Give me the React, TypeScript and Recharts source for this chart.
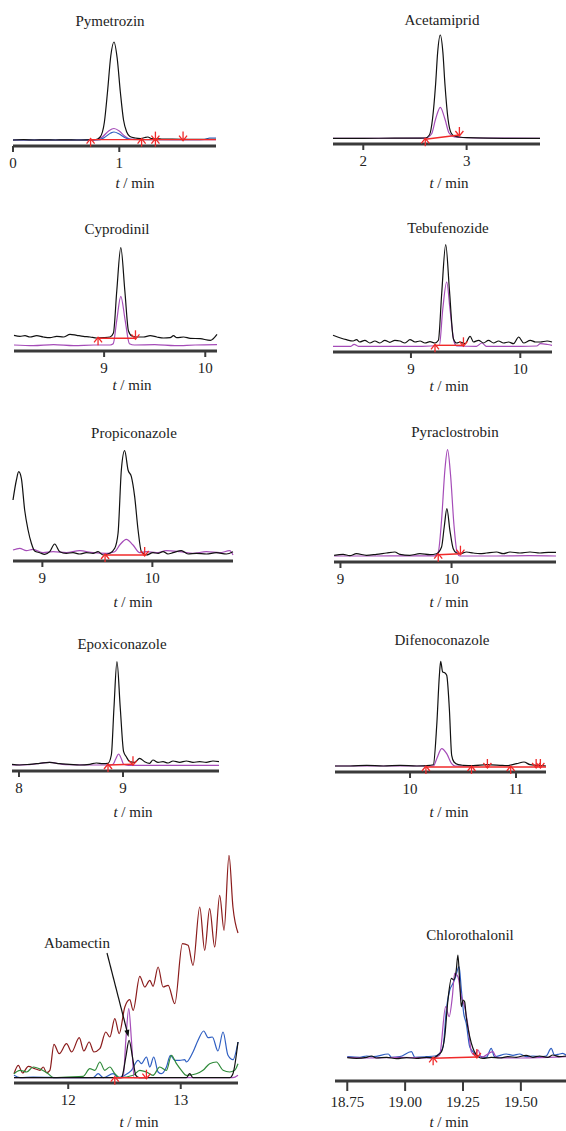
import { LineChart, Line, XAxis, YAxis } from "recharts";

type Pt = [number, number];
type Mark = [number, number, string];

const FONT = '"Liberation Serif", "Times New Roman", serif';
const BLACK = "#111111";
const PURPLE = "#a54cb8";
const BLUE = "#2f5fc2";
const RED = "#f02a2a";
const BROWN = "#8b1c1c";
const GREEN = "#2f8a3a";

// y values = height above the axis line (px-like units), x = retention time in min

// Pymetrozin
const pymBlack: Pt[] = [[0,6],[0.1,6.3],[0.2,6],[0.3,6.2],[0.4,6],[0.5,6.1],[0.6,6],[0.7,6.2],[0.78,6.5],[0.82,9],[0.86,24],[0.89,55],[0.92,90],[0.95,104],[0.98,88],[1.01,54],[1.04,26],[1.07,14],[1.1,9.5],[1.15,8],[1.2,7.5],[1.24,8.5],[1.27,9],[1.3,7.5],[1.4,7],[1.5,6.8],[1.6,6.7],[1.7,6.6],[1.8,6.6],[1.91,6.6]];
const pymPurple: Pt[] = [[0,6],[0.5,6],[0.78,6.2],[0.84,9],[0.9,15],[0.95,17.5],[1.0,15],[1.05,10],[1.1,7],[1.2,6.5],[1.5,6.3],[1.91,6.3]];
const pymBlue: Pt[] = [[0,6],[0.8,6],[0.86,8.5],[0.92,13],[0.95,14],[1.0,12],[1.06,8],[1.12,6.5],[1.5,6.3],[1.8,6.5],[1.85,8],[1.91,8]];
const pymRed: Mark[] = [[0.73,6.4,"u"],[1.21,6.4,"u"],[1.34,6.4,"b"],[1.6,6.4,"d"],[1.91,6.4,""]];

// Acetamiprid
const aceBlack: Pt[] = [[1.707,5.7],[2.0,5.7],[2.3,5.8],[2.5,5.8],[2.6,6],[2.64,9],[2.67,25],[2.7,60],[2.72,92],[2.745,109],[2.77,92],[2.79,60],[2.82,25],[2.85,11],[2.88,8],[2.93,7],[3.0,6.3],[3.2,5.8],[3.5,5.7],[3.71,5.7]];
const acePurple: Pt[] = [[1.707,5.7],[2.6,5.8],[2.66,10],[2.7,25],[2.745,36.7],[2.79,25],[2.83,11],[2.88,7],[2.95,6.5],[3.1,6],[3.71,5.7]];
const aceRed: Mark[] = [[2.6,4.7,"u"],[2.93,9,"d"]];

// Cyprodinil
const cypBlack: Pt[] = [[8.109,15.7],[8.168,14.7],[8.218,15.3],[8.267,14],[8.333,15.3],[8.399,14],[8.465,13.3],[8.531,14.7],[8.597,14],[8.663,16.7],[8.729,15.7],[8.795,14.7],[8.861,14],[8.927,13],[8.993,13.3],[9.059,14],[9.092,18],[9.125,60],[9.165,103.4],[9.205,60],[9.241,20],[9.274,15],[9.323,14],[9.389,14],[9.455,15.3],[9.521,14],[9.587,13],[9.653,13.3],[9.686,15.3],[9.719,13.3],[9.785,14],[9.851,12.7],[9.95,12.3],[10.05,10.7],[10.116,16.7]];
const cypPurple: Pt[] = [[8.109,6],[8.3,5.3],[8.5,6.3],[8.7,5.3],[8.9,6],[9.06,6],[9.09,7.3],[9.125,30.7],[9.165,54.7],[9.208,30.7],[9.25,7.3],[9.3,6],[9.5,6.3],[9.7,5.3],[9.9,6],[10.116,6.3]];
const cypRed: Mark[] = [[8.94,12.7,"u"],[9.31,12.7,"d"]];

// Tebufenozide
const tebBlack: Pt[] = [[8.287,16.7],[8.349,14.3],[8.41,12.3],[8.471,11],[8.502,12.3],[8.532,10],[8.578,11.7],[8.624,9],[8.67,11],[8.716,9],[8.761,11.7],[8.807,9.7],[8.853,11.7],[8.899,11],[8.945,9],[8.991,12.3],[9.037,10],[9.083,11],[9.128,9],[9.174,10.3],[9.22,9],[9.251,11.7],[9.281,58.3],[9.318,107.3],[9.352,61.7],[9.388,13.3],[9.419,9],[9.45,10],[9.495,8.3],[9.541,15.7],[9.572,10],[9.618,11.7],[9.664,9],[9.709,11.7],[9.755,9],[9.801,11],[9.847,9],[9.893,10],[9.939,8.3],[9.985,15],[10.031,9],[10.092,11.7],[10.138,10],[10.183,10],[10.245,11],[10.29,10]];
const tebPurple: Pt[] = [[8.287,5.7],[8.45,5.7],[8.48,7.7],[8.52,5.7],[8.8,5.7],[9.1,5.7],[9.26,6.5],[9.29,41.7],[9.327,70],[9.358,41.7],[9.395,10],[9.42,6],[9.6,5.7],[9.648,9],[9.69,5.7],[10.0,5.7],[10.15,6],[10.183,8.3],[10.25,7.5],[10.29,6.7]];
const tebRed: Mark[] = [[9.22,6.7,"u"],[9.48,6.7,"d"]];

// Propiconazole
const proBlack: Pt[] = [[8.733,61],[8.764,81],[8.785,89.3],[8.809,82.7],[8.839,51],[8.87,31],[8.9,17.7],[8.93,10],[8.976,8.3],[9.021,6.7],[9.067,9.3],[9.112,17],[9.158,9.3],[9.218,7.7],[9.279,8.3],[9.339,7],[9.4,8.3],[9.461,7.7],[9.506,9.3],[9.552,6],[9.612,7.7],[9.658,12.7],[9.688,27.7],[9.718,91],[9.748,110.3],[9.779,91],[9.809,84.3],[9.839,64.3],[9.87,31],[9.9,9.3],[9.945,6],[10.006,8.3],[10.052,7.7],[10.097,9.3],[10.142,7],[10.188,8.3],[10.264,10.3],[10.324,7],[10.4,7.7],[10.491,7],[10.582,8.3],[10.673,7],[10.733,9.3]];
const proPurple: Pt[] = [[8.733,11],[8.794,12.7],[8.855,10.3],[8.915,11.7],[9.006,8.3],[9.097,9.3],[9.218,8.3],[9.339,10.3],[9.461,8.3],[9.582,7.7],[9.658,9.3],[9.703,16],[9.764,21.7],[9.824,16],[9.885,8.3],[9.945,9.3],[10.036,8.3],[10.127,10.3],[10.248,9.3],[10.37,7.7],[10.491,9.3],[10.612,8.3],[10.703,10.3],[10.733,6]];
const proRed: Mark[] = [[9.57,6,"u"],[9.93,6,"d"]];

// Pyraclostrobin
const pyrBlack: Pt[] = [[8.943,6.7],[9.024,7.7],[9.084,6.3],[9.144,8.3],[9.234,6.7],[9.324,7.7],[9.414,9],[9.489,10],[9.535,7.7],[9.625,6.7],[9.715,8.3],[9.805,7.3],[9.865,8.3],[9.91,15],[9.934,35],[9.958,53.3],[9.985,31.7],[10.015,13.3],[10.045,9],[10.075,8.3],[10.135,10],[10.195,9],[10.255,8.3],[10.315,9],[10.405,10],[10.465,8.3],[10.526,10],[10.616,9],[10.706,10],[10.796,9],[10.871,9.7],[10.94,9.7]];
const pyrPurple: Pt[] = [[8.943,6],[9.3,6],[9.6,6.2],[9.85,6.2],[9.88,9.7],[9.91,41.7],[9.94,92],[9.964,112.3],[9.991,87],[10.021,38],[10.051,9],[10.075,6],[10.4,6],[10.7,6.3],[10.94,6]];
const pyrRed: Mark[] = [[9.88,7.3,"u"],[10.08,8.3,"d"]];

// Epoxiconazole
const epoBlack: Pt[] = [[7.933,6.7],[8.006,6],[8.103,6.7],[8.199,7.7],[8.295,8.7],[8.391,7.3],[8.487,6.7],[8.583,6],[8.679,6.7],[8.744,8],[8.808,7.3],[8.856,7.7],[8.888,16],[8.913,62.7],[8.942,109.3],[8.974,62.7],[9.006,19.3],[9.032,14.3],[9.064,9.3],[9.112,8.7],[9.16,12.7],[9.208,9.3],[9.256,7.7],[9.288,11],[9.337,8.7],[9.385,9.3],[9.433,8],[9.481,10],[9.545,8.7],[9.609,10],[9.673,8.7],[9.737,9.3],[9.801,8.7],[9.865,10],[9.923,9.3]];
const epoPurple: Pt[] = [[7.933,6],[8.1,6.3],[8.295,8.7],[8.45,6.3],[8.7,6],[8.88,6],[8.904,6.7],[8.93,12],[8.958,17],[8.985,12],[9.006,6.7],[9.05,5.7],[9.3,5.7],[9.6,5.7],[9.923,5.7]];
const epoRed: Mark[] = [[8.856,6,"u"],[9.096,6.7,"d"]];

// Difenoconazole
const difBlack: Pt[] = [[9.292,6],[9.434,6],[9.591,6.7],[9.748,6],[9.906,6.7],[10.063,6],[10.189,6.7],[10.22,7.3],[10.252,46.7],[10.277,96.7],[10.289,110.7],[10.308,100],[10.327,99.3],[10.346,96.7],[10.371,63.3],[10.393,16.7],[10.415,10],[10.456,7.3],[10.503,6.7],[10.597,6.3],[10.723,7.3],[10.849,6.7],[10.912,6.3],[11.006,8.3],[11.075,10],[11.132,7.3],[11.195,6.7],[11.283,6]];
const difPurple: Pt[] = [[9.292,6],[9.7,6],[10.1,6],[10.22,6],[10.252,13.3],[10.299,23.3],[10.346,18.3],[10.393,8.3],[10.425,6],[10.6,6]];
const difRed: Mark[] = [[10.15,5,"u"],[10.58,5,"u"],[10.73,5,"d"],[10.95,5,"u"],[11.19,5,"d"],[11.23,5,"d"],[11.283,5,""]];

// Abamectin
const abaBrown: Pt[] = [[11.518,9.3],[11.556,17.7],[11.595,10],[11.645,16.7],[11.704,14.3],[11.749,12.7],[11.778,16],[11.808,10.3],[11.837,12.7],[11.873,38.7],[11.92,29.3],[11.985,39.3],[12.03,31],[12.098,45.3],[12.139,32],[12.186,41],[12.228,31],[12.281,34.3],[12.334,51],[12.37,46],[12.414,64.3],[12.453,49.3],[12.503,76],[12.547,83.3],[12.577,72.7],[12.636,106.7],[12.68,96],[12.725,102.7],[12.754,96.7],[12.799,116],[12.843,96],[12.888,97.7],[12.947,79.3],[13.015,139.3],[13.065,137.7],[13.109,117.7],[13.169,176],[13.213,132.7],[13.257,174.3],[13.302,136],[13.346,187.7],[13.385,152.7],[13.429,227.7],[13.464,176],[13.509,150]];
const abaBlue: Pt[] = [[11.518,7.7],[11.571,5.3],[11.689,6],[11.985,5.3],[12.222,5.3],[12.266,9.3],[12.311,5.3],[12.399,9.3],[12.444,5.3],[12.503,7.7],[12.562,12.7],[12.621,22.7],[12.651,19.3],[12.695,26],[12.725,16],[12.76,26],[12.799,11],[12.828,9.3],[12.873,16],[12.908,27.7],[12.947,22.7],[12.991,22.7],[13.036,23.3],[13.05,21],[13.109,31],[13.154,42.7],[13.204,52],[13.243,45.3],[13.281,46],[13.331,32],[13.376,51],[13.42,27.7],[13.464,23.3],[13.509,41]];
const abaGreen: Pt[] = [[11.518,9.3],[11.571,12.7],[11.63,11],[11.689,16],[11.763,13.3],[11.822,9.3],[11.867,5.3],[11.985,6],[12.133,6.7],[12.192,14.3],[12.237,12.7],[12.281,21],[12.325,12.7],[12.37,16],[12.414,9.3],[12.459,5.3],[12.577,7.7],[12.636,12.7],[12.695,11],[12.754,7.7],[12.814,16],[12.873,12.7],[12.917,27.7],[12.962,19.3],[13.006,12.7],[13.05,7.7],[13.139,9.3],[13.198,12.7],[13.257,19.3],[13.317,21],[13.376,12.7],[13.435,11],[13.479,12.7],[13.509,19.3]];
const abaPurple: Pt[] = [[11.518,5.3],[12.0,5.3],[12.488,5.3],[12.512,42.7],[12.538,74.3],[12.562,42.7],[12.586,5.3],[13.0,5.3],[13.464,5.3],[13.509,7.7]];
const abaBlack: Pt[] = [[11.518,5.3],[12.0,5.3],[12.473,5.3],[12.482,7.7],[12.512,26],[12.541,42.7],[12.571,26],[12.601,7.7],[12.63,5.3],[13.05,5.3],[13.08,9.3],[13.109,5.3],[13.435,5.3],[13.464,9.3],[13.509,41]];
const abaRed: Mark[] = [[12.414,5.3,"u"],[12.695,5.3,"d"]];

// Chlorothalonil
const chlBlue: Pt[] = [[18.75,24.3],[18.805,23.7],[18.833,25],[18.862,24.3],[18.927,27],[18.941,23.7],[18.977,24.3],[19.027,29.3],[19.042,23.7],[19.092,24.3],[19.128,25],[19.149,27.7],[19.164,34.3],[19.178,71],[19.193,91],[19.207,97.7],[19.218,104.3],[19.233,114.3],[19.243,91],[19.253,67.7],[19.264,57.7],[19.279,34.3],[19.293,29.3],[19.307,26],[19.329,24.3],[19.351,23.7],[19.372,32.7],[19.386,24.3],[19.437,27],[19.466,25.7],[19.494,27],[19.523,24.3],[19.552,25],[19.58,24.3],[19.609,25],[19.631,32.7],[19.645,26],[19.667,27],[19.681,27.7],[19.695,26]];
const chlPurple: Pt[] = [[18.75,23.7],[18.833,23],[18.977,23.7],[19.121,23],[19.149,26],[19.175,74.3],[19.19,64.3],[19.204,84.3],[19.214,107.7],[19.228,104.3],[19.243,84.3],[19.257,74.3],[19.272,54.3],[19.286,29.3],[19.3,26],[19.315,31],[19.329,23.7],[19.379,29.3],[19.394,23.7],[19.48,23],[19.624,23.7],[19.695,24.3]];
const chlBlack: Pt[] = [[18.75,23.3],[18.79,22.7],[18.833,23.7],[18.855,25],[18.876,23],[18.92,23.7],[18.963,22.3],[19.006,23.3],[19.049,22.7],[19.092,23.7],[19.121,23],[19.142,26],[19.157,29.3],[19.171,44.3],[19.185,81],[19.2,102.7],[19.21,101],[19.221,111],[19.228,126],[19.236,97.7],[19.243,74.3],[19.25,81],[19.257,79.3],[19.264,64.3],[19.279,44.3],[19.293,32.7],[19.303,27.7],[19.315,24.3],[19.336,22.7],[19.372,23.7],[19.408,23],[19.444,24.3],[19.48,23.7],[19.523,25.7],[19.552,23.7],[19.58,25],[19.616,23.7],[19.638,26],[19.667,24.3],[19.695,25]];
const chlRed: Mark[] = [[19.121,22.7,"u"],[19.31,24,"d"]];

interface Trace { data: Pt[]; color: string; width?: number }
interface PanelDef {
  title?: string; titleX: number; titleY: number;
  left: number; right: number; axisY: number; h: number;
  domain: [number, number]; ticks: number[]; decimals?: number; tickSize?: number;
  traces: Trace[]; red: Mark[];
  labelX: number; labelY: number;
}

const PANELS: PanelDef[] = [
  { title: "Pymetrozin", titleX: 110, titleY: 21, left: 13, right: 216, axisY: 146, h: 130, domain: [0, 1.91], ticks: [0, 1],
    traces: [{ data: pymPurple, color: PURPLE }, { data: pymBlue, color: BLUE }, { data: pymBlack, color: BLACK }], red: pymRed, labelX: 135, labelY: 183 },
  { title: "Acetamiprid", titleX: 442, titleY: 20, left: 333, right: 540, axisY: 144, h: 130, domain: [1.707, 3.71], ticks: [2, 3],
    traces: [{ data: acePurple, color: PURPLE }, { data: aceBlack, color: BLACK }], red: aceRed, labelX: 449, labelY: 183 },
  { title: "Cyprodinil", titleX: 117, titleY: 229, left: 14, right: 217, axisY: 351, h: 130, domain: [8.109, 10.116], ticks: [9, 10],
    traces: [{ data: cypPurple, color: PURPLE }, { data: cypBlack, color: BLACK }], red: cypRed, labelX: 132, labelY: 385 },
  { title: "Tebufenozide", titleX: 448, titleY: 228, left: 333, right: 552, axisY: 352, h: 130, domain: [8.287, 10.29], ticks: [9, 10],
    traces: [{ data: tebPurple, color: PURPLE }, { data: tebBlack, color: BLACK }], red: tebRed, labelX: 449, labelY: 386 },
  { title: "Propiconazole", titleX: 134, titleY: 433, left: 13, right: 233, axisY: 561, h: 130, domain: [8.733, 10.733], ticks: [9, 10],
    traces: [{ data: proPurple, color: PURPLE }, { data: proBlack, color: BLACK }], red: proRed, labelX: 133, labelY: 602 },
  { title: "Pyraclostrobin", titleX: 455, titleY: 432, left: 334, right: 556, axisY: 562, h: 130, domain: [8.942, 10.94], ticks: [9, 10],
    traces: [{ data: pyrPurple, color: PURPLE }, { data: pyrBlack, color: BLACK }], red: pyrRed, labelX: 449, labelY: 602 },
  { title: "Epoxiconazole", titleX: 122, titleY: 644, left: 12, right: 219, axisY: 771, h: 130, domain: [7.933, 9.923], ticks: [8, 9],
    traces: [{ data: epoPurple, color: PURPLE }, { data: epoBlack, color: BLACK }], red: epoRed, labelX: 133, labelY: 812 },
  { title: "Difenoconazole", titleX: 442, titleY: 640, left: 335, right: 546, axisY: 772, h: 130, domain: [9.292, 11.283], ticks: [10, 11],
    traces: [{ data: difPurple, color: PURPLE }, { data: difBlack, color: BLACK }], red: difRed, labelX: 449, labelY: 812 },
  { titleX: 0, titleY: 0, left: 14, right: 238, axisY: 1083, h: 240, domain: [11.518, 13.509], ticks: [12, 13],
    traces: [{ data: abaBrown, color: BROWN }, { data: abaBlue, color: BLUE }, { data: abaGreen, color: GREEN }, { data: abaPurple, color: PURPLE }, { data: abaBlack, color: BLACK }],
    red: abaRed, labelX: 139, labelY: 1122 },
  { title: "Chlorothalonil", titleX: 470, titleY: 935, left: 335, right: 566, axisY: 1081, h: 140, domain: [18.697, 19.695], ticks: [18.75, 19, 19.25, 19.5], decimals: 2, tickSize: 10,
    traces: [{ data: chlBlue, color: BLUE }, { data: chlPurple, color: PURPLE }, { data: chlBlack, color: BLACK }], red: chlRed, labelX: 449, labelY: 1122 },
];

const PAD = 20;
const AXIS_H = 36;

function renderMark(props: any) {
  const { cx, cy, payload, index } = props;
  const m = payload?.m;
  if (!m || cx == null || cy == null) return <g key={`m${index}`} />;
  const up = (
    <g>
      <line x1={cx} y1={cy + 7} x2={cx} y2={cy - 1} />
      <polyline points={`${cx - 4},${cy + 4} ${cx},${cy - 1} ${cx + 4},${cy + 4}`} fill="none" />
    </g>
  );
  const down = (
    <g>
      <line x1={cx} y1={cy - 8} x2={cx} y2={cy + 1} />
      <polyline points={`${cx - 4},${cy - 4} ${cx},${cy + 1} ${cx + 4},${cy - 4}`} fill="none" />
    </g>
  );
  return (
    <g key={`m${index}`} stroke={RED} strokeWidth={1.3}>
      {(m === "u" || m === "b") && up}
      {(m === "d" || m === "b") && down}
    </g>
  );
}

function Panel({ p }: { p: PanelDef }) {
  const w = p.right - p.left + PAD * 2;
  const ts = p.tickSize ?? 6;
  return (
    <>
      <div style={{ position: "absolute", left: p.left - PAD, top: p.axisY - p.h }}>
        <LineChart width={w} height={p.h + AXIS_H} margin={{ top: 0, right: PAD, bottom: 0, left: PAD }}>
          <XAxis
            type="number"
            dataKey="t"
            domain={p.domain}
            ticks={p.ticks}
            height={AXIS_H}
            tickFormatter={(v: number) => (p.decimals ? v.toFixed(p.decimals) : String(v))}
            axisLine={{ stroke: "#3a3a3a", strokeWidth: 3 }}
            tickLine={{ stroke: "#3a3a3a", strokeWidth: 2 }}
            tickSize={ts}
            tickMargin={5}
            tick={{ fontSize: 15, fontFamily: FONT, fill: "#222" }}
          />
          <YAxis type="number" domain={[0, p.h]} hide />
          {p.traces.map((tr, i) => (
            <Line
              key={i}
              data={tr.data.map(([t, v]) => ({ t, v }))}
              dataKey="v"
              type="monotone"
              stroke={tr.color}
              strokeWidth={tr.width ?? 1.2}
              dot={false}
              activeDot={false}
              isAnimationActive={false}
            />
          ))}
          <Line
            data={p.red.map(([t, v, m]) => ({ t, v, m }))}
            dataKey="v"
            type="linear"
            stroke={RED}
            strokeWidth={1.4}
            dot={renderMark}
            activeDot={false}
            isAnimationActive={false}
          />
        </LineChart>
      </div>
      {p.title && (
        <div style={{ position: "absolute", left: p.titleX, top: p.titleY, transform: "translate(-50%, -50%)", fontFamily: FONT, fontSize: 15, color: "#222", whiteSpace: "nowrap", lineHeight: 1 }}>
          {p.title}
        </div>
      )}
      <div style={{ position: "absolute", left: p.labelX, top: p.labelY, transform: "translate(-50%, -50%)", fontFamily: FONT, fontSize: 15, color: "#222", whiteSpace: "nowrap", lineHeight: 1 }}>
        <i>t</i> / min
      </div>
    </>
  );
}

export default function App() {
  return (
    <div style={{ position: "absolute", left: 0, top: 0, width: 566, height: 1131, overflow: "hidden", background: "#fff" }}>
      {PANELS.map((p, i) => (
        <Panel key={i} p={p} />
      ))}
      <div style={{ position: "absolute", left: 77, top: 943, transform: "translate(-50%, -50%)", fontFamily: FONT, fontSize: 15, color: "#222", whiteSpace: "nowrap", lineHeight: 1 }}>
        Abamectin
      </div>
      <svg width={566} height={1131} style={{ position: "absolute", left: 0, top: 0, pointerEvents: "none" }}>
        <line x1={107} y1={953} x2={127} y2={1031} stroke="#111" strokeWidth={1.2} />
        <polygon points="128.5,1037 129.3,1029.6 124.4,1030.8" fill="#111" />
      </svg>
    </div>
  );
}
